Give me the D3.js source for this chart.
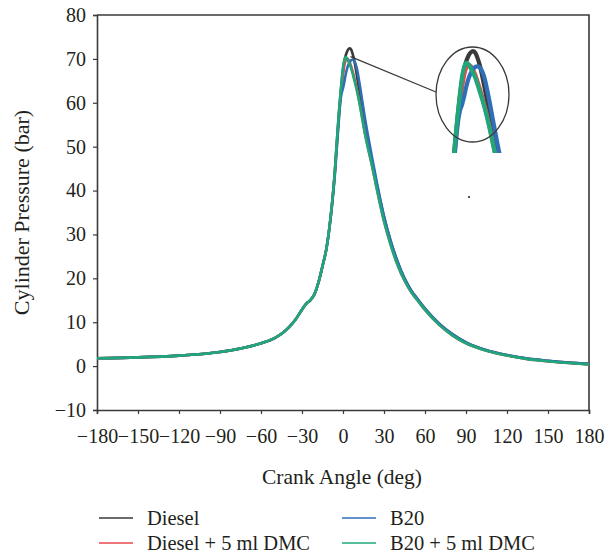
<!DOCTYPE html>
<html>
<head>
<meta charset="utf-8">
<script src="https://cdn.jsdelivr.net/npm/d3@7/dist/d3.min.js"></script>
<style>
  html, body { margin: 0; padding: 0; background: #fff; }
  svg { display: block; }
  text { font-family: "Liberation Serif", "Times New Roman", serif; fill: #231f20; }
</style>
</head>
<body>
<script>
// ---- data ----
const angles = [-180,-150,-120,-90,-75,-60,-50,-44,-40,-35,-31,-27,-24,-21,-18,-15,-12,-10,-8,-6,-5,-4,-3,-2,-1,0,1,2,3,4,5,6,7,8,10,12,14,16,18,21,25,30,35,40,45,50,55,60,70,80,90,105,120,135,150,165,180];

const diesel = [1.8,2.0,2.4,3.2,4.0,5.2,6.4,7.6,8.7,10.5,12.4,14.2,15.0,16.3,19.0,22.8,27.0,31.4,37.0,44.2,48.8,53.3,57.5,61.3,64.7,67.5,69.5,70.8,71.7,72.2,72.4,72.1,71.2,70,66.5,62.5,58.5,55,51.5,47,41,34,28.3,23.7,20,17.2,15.1,13.1,9.8,7.3,5.4,3.6,2.5,1.7,1.2,0.8,0.5];

const dieselDMC = [1.8,2.0,2.4,3.2,4.0,5.2,6.4,7.6,8.7,10.5,12.4,14.2,15.0,16.3,19.0,22.8,27.0,31.4,37.0,44.0,48.3,52.6,56.8,60.5,63.6,66.3,68.5,69.7,70.1,69.8,69.2,68.3,67.2,66,63.3,60.2,56.7,53.2,50.2,46,40,33,27.5,23,19.5,16.8,14.8,12.8,9.5,7,5.2,3.5,2.4,1.6,1.1,0.7,0.4];

const b20 = [1.8,2.0,2.4,3.2,4.0,5.2,6.4,7.6,8.7,10.5,12.4,14.2,15.0,16.3,19.0,22.8,27.0,31.3,36.7,43.4,47.6,52.0,56.2,60.0,62.2,63.3,64.8,66.5,67.8,68.7,69.3,69.7,69.8,69.6,68,64.6,60.6,56.6,53.0,48.0,41.5,34.2,28.4,23.8,20,17.2,15.1,13.1,9.8,7.3,5.4,3.6,2.5,1.7,1.2,0.8,0.5];

const b20DMC = [1.8,2.0,2.4,3.2,4.0,5.2,6.4,7.6,8.7,10.5,12.4,14.2,15.0,16.3,19.0,22.8,27.0,31.5,37.2,44.3,49.0,53.6,57.8,61.6,65.1,68.1,69.8,70.4,70.1,69.4,68.7,67.8,66.7,65.5,63,60,56.5,53,50,46,40,33,27.5,23,19.5,16.8,14.8,12.8,9.5,7,5.2,3.5,2.4,1.6,1.1,0.7,0.4];

const seriesNames = ["Diesel", "Diesel + 5 ml DMC", "B20", "B20 + 5 ml DMC"];
const seriesColors = ["#3a3a3a", "#e8474c", "#2f6fb8", "#1fa77a"];
const seriesValues = [diesel, dieselDMC, b20, b20DMC];

const xTicks = [-180,-150,-120,-90,-60,-30,0,30,60,90,120,150,180];
const xMinorTicks = d3.range(-180, 181, 15);
const yTicks = [-10,0,10,20,30,40,50,60,70,80];
const yMinorTicks = d3.range(-10, 81, 5);

// ---- layout ----
const W = 613, H = 556;
const L = 97, R = 589, T = 15, B = 410;

const svg = d3.select("body").append("svg").attr("width", W).attr("height", H);

const x = d3.scaleLinear().domain([-180, 180]).range([L, R]);
const y = d3.scaleLinear().domain([-10, 80]).range([B, T]);

const fmt = d => (d < 0 ? "\u2212" + Math.abs(d) : String(d));

// frame (top/right)
svg.append("path")
  .attr("d", `M${L},${T}H${R}V${B}`)
  .attr("fill", "none").attr("stroke", "#3a3a3a").attr("stroke-width", 1.6);

// x axis
const gx = svg.append("g").attr("transform", `translate(0,${B})`);
gx.call(d3.axisBottom(x).tickValues(xMinorTicks).tickSize(4).tickFormat(""));
gx.call(d3.axisBottom(x).tickValues(xTicks).tickSize(4).tickPadding(15).tickFormat(fmt));
gx.selectAll(".domain").attr("stroke", "#3a3a3a").attr("stroke-width", 1.6);
gx.selectAll("line").attr("stroke", "#3a3a3a").attr("stroke-width", 1.2);
gx.selectAll("text").style("font-size", "20px").style("font-family", "Liberation Serif").attr("fill", "#231f20");

// y axis
const gy = svg.append("g").attr("transform", `translate(${L},0)`);
gy.call(d3.axisLeft(y).tickValues(yMinorTicks).tickSize(4).tickFormat(""));
gy.call(d3.axisLeft(y).tickValues(yTicks).tickSize(4).tickPadding(7).tickFormat(fmt));
gy.selectAll(".domain").attr("stroke", "#3a3a3a").attr("stroke-width", 1.6);
gy.selectAll("line").attr("stroke", "#3a3a3a").attr("stroke-width", 1.2);
gy.selectAll("text").style("font-size", "20px").style("font-family", "Liberation Serif").attr("fill", "#231f20");

// axis titles
svg.append("text")
  .attr("x", (L + R) / 2 - 1).attr("y", 484)
  .attr("text-anchor", "middle").style("font-size", "21.5px")
  .text("Crank Angle (deg)");
svg.append("text")
  .attr("transform", `translate(29,${(T + B) / 2}) rotate(-90)`)
  .attr("text-anchor", "middle").style("font-size", "22px")
  .text("Cylinder Pressure (bar)");

// main curves
const line = d3.line()
  .x((d, i) => x(angles[i]))
  .y(d => y(d))
  .curve(d3.curveMonotoneX);

seriesValues.forEach((vals, k) => {
  svg.append("path")
    .datum(vals)
    .attr("d", line)
    .attr("fill", "none")
    .attr("stroke", seriesColors[k])
    .attr("stroke-width", 2.6)
    .attr("stroke-linejoin", "round");
});

// inset (magnified peak)
const ix = d3.scaleLinear().domain([-5.5, 14]).range([450, 493]);
const iy = d3.scaleLinear().domain([55, 72.3]).range([153, 51.7]);
const insetIdx = [];
angles.forEach((a, i) => { if (a >= -8 && a <= 18) insetIdx.push(i); });

svg.append("defs").append("clipPath").attr("id", "insetClip")
  .append("rect").attr("x", 420).attr("y", 35).attr("width", 110).attr("height", 118);

const iline = d3.line()
  .x(d => ix(angles[d.i]))
  .y(d => iy(d.v))
  .curve(d3.curveMonotoneX);

const insetG = svg.append("g").attr("clip-path", "url(#insetClip)");
seriesValues.forEach((vals, k) => {
  insetG.append("path")
    .datum(insetIdx.map(i => ({ i, v: vals[i] })))
    .attr("d", iline)
    .attr("fill", "none")
    .attr("stroke", seriesColors[k])
    .attr("stroke-width", 4.2)
    .attr("stroke-linejoin", "round");
});

// ellipse and connector
svg.append("ellipse")
  .attr("cx", 472.5).attr("cy", 94.5).attr("rx", 36.5).attr("ry", 47.5)
  .attr("fill", "none").attr("stroke", "#3a3a3a").attr("stroke-width", 1.3);
svg.append("line")
  .attr("x1", x(5.5)).attr("y1", y(70.5))
  .attr("x2", 436).attr("y2", 92)
  .attr("stroke", "#3a3a3a").attr("stroke-width", 1.3);

// small stray dot present in reference
svg.append("rect").attr("x", 468).attr("y", 196).attr("width", 2).attr("height", 2).attr("fill", "#555");

// legend
const legendPos = [[99, 518], [99, 543], [342, 518], [342, 543]];
seriesNames.forEach((name, k) => {
  const [lx, ly] = legendPos[k];
  svg.append("line")
    .attr("x1", lx).attr("x2", lx + 34).attr("y1", ly).attr("y2", ly)
    .attr("stroke", seriesColors[k]).attr("stroke-width", 1.6);
  svg.append("text")
    .attr("x", lx + 48).attr("y", ly).attr("dy", "0.33em")
    .style("font-size", "20.5px")
    .text(name);
});
</script>
</body>
</html>
